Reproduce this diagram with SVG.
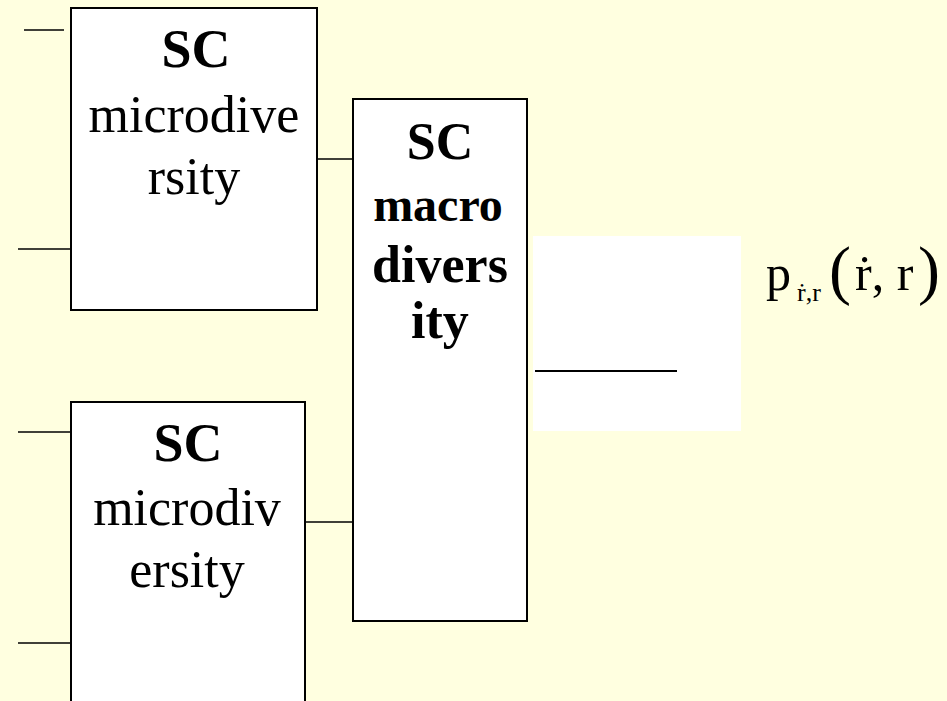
<svg xmlns="http://www.w3.org/2000/svg" width="947" height="701" viewBox="0 0 947 701">
  <style>
    .box { fill: #ffffff; stroke: #000000; stroke-width: 2; }
    .wire { stroke: #000000; stroke-width: 1.5; fill: none; }
    .lbl { font-family: "Liberation Serif", "Times New Roman", serif; fill: #000000; text-anchor: middle; }
    .b { font-weight: bold; }
    .math { font-family: "Liberation Serif", "Times New Roman", serif; fill: #000000; }
  </style>
  <rect x="0" y="0" width="947" height="701" fill="#ffffe0"/>

  <!-- input/output connectors -->
  <g id="connectors">
    <line class="wire" x1="24" y1="30" x2="64" y2="30"/>
    <line class="wire" x1="18" y1="249" x2="71" y2="249"/>
    <line class="wire" x1="18" y1="432" x2="71" y2="432"/>
    <line class="wire" x1="18" y1="643" x2="71" y2="643"/>
    <line class="wire" x1="313" y1="159" x2="353" y2="159"/>
    <line class="wire" x1="305" y1="522" x2="353" y2="522"/>
  </g>

  <!-- first microdiversity combiner -->
  <g id="sc-micro-1">
    <rect class="box" x="71" y="8" width="246" height="302"/>
    <text class="lbl b" x="196" y="67" font-size="54">SC</text>
    <text class="lbl" x="194" y="132" font-size="52">microdive</text>
    <text class="lbl" x="194" y="194" font-size="52">rsity</text>
  </g>

  <!-- second microdiversity combiner -->
  <g id="sc-micro-2">
    <rect class="box" x="71" y="402" width="234" height="310"/>
    <text class="lbl b" x="188" y="461" font-size="54">SC</text>
    <text class="lbl" x="187" y="525" font-size="52">microdiv</text>
    <text class="lbl" x="187" y="587" font-size="52">ersity</text>
  </g>

  <!-- macrodiversity combiner -->
  <g id="sc-macro">
    <rect class="box" x="353" y="99" width="174" height="522"/>
    <text class="lbl b" x="440" y="159" font-size="52">SC</text>
    <text class="lbl b" x="438" y="221" font-size="48">macro</text>
    <text class="lbl b" x="440" y="282" font-size="52">divers</text>
    <text class="lbl b" x="440" y="338" font-size="52">ity</text>
  </g>

  <!-- output panel -->
  <g id="output">
    <rect x="533" y="236" width="208" height="195" fill="#ffffff"/>
    <line x1="535" y1="371" x2="677" y2="371" stroke="#000000" stroke-width="2"/>
  </g>

  <!-- joint density p_{ṙ,r}(ṙ, r) -->
  <g id="formula" class="math">
    <text x="766" y="290" font-size="50">p</text>
    <text x="797" y="301" font-size="26">ṙ,r</text>
    <text x="829" y="292" font-size="66">(</text>
    <text x="855" y="290" font-size="50">ṙ, r</text>
    <text x="918" y="292" font-size="66">)</text>
  </g>
</svg>
